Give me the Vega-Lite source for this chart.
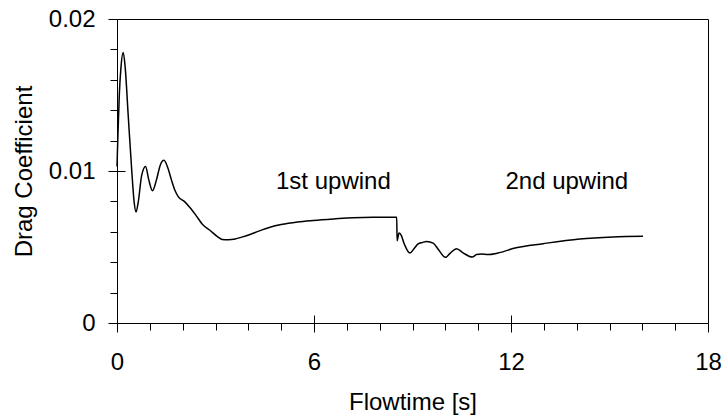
{
  "$schema": "https://vega.github.io/schema/vega-lite/v6.json",
  "autosize": {"type": "none"},
  "padding": {"left": 117, "top": 19, "right": 16, "bottom": 96},
  "width": 591,
  "height": 304,
  "background": "white",
  "config": {
    "view": {"stroke": "black", "strokeWidth": 1},
    "font": "Liberation Sans",
    "axis": {
      "domainColor": "black",
      "tickColor": "black",
      "labelColor": "black",
      "titleColor": "black",
      "labelFont": "Liberation Sans",
      "titleFont": "Liberation Sans",
      "labelFontSize": 24,
      "titleFontSize": 24,
      "titleFontWeight": "normal",
      "labelFlush": false,
      "grid": false,
      "tickWidth": 1,
      "domainWidth": 1
    }
  },
  "datasets": {
    "drag": [
      {"t": 0.0, "cd": 0.0103},
      {"t": 0.03, "cd": 0.0125},
      {"t": 0.07, "cd": 0.015},
      {"t": 0.12, "cd": 0.0168},
      {"t": 0.19, "cd": 0.0178},
      {"t": 0.25, "cd": 0.0168},
      {"t": 0.34, "cd": 0.0137},
      {"t": 0.45, "cd": 0.01},
      {"t": 0.52, "cd": 0.008},
      {"t": 0.58, "cd": 0.0073},
      {"t": 0.65, "cd": 0.008},
      {"t": 0.75, "cd": 0.0097},
      {"t": 0.87, "cd": 0.0103},
      {"t": 0.97, "cd": 0.0094},
      {"t": 1.08, "cd": 0.0087},
      {"t": 1.2, "cd": 0.0094},
      {"t": 1.32, "cd": 0.0104},
      {"t": 1.43, "cd": 0.0107},
      {"t": 1.55, "cd": 0.0102},
      {"t": 1.66, "cd": 0.0094},
      {"t": 1.77, "cd": 0.0087},
      {"t": 1.87, "cd": 0.0083},
      {"t": 2.05, "cd": 0.008},
      {"t": 2.22, "cd": 0.0076},
      {"t": 2.4, "cd": 0.0071},
      {"t": 2.6, "cd": 0.0065},
      {"t": 2.83, "cd": 0.0061},
      {"t": 3.05, "cd": 0.0057},
      {"t": 3.2, "cd": 0.0055},
      {"t": 3.39, "cd": 0.00548},
      {"t": 3.6, "cd": 0.00553},
      {"t": 3.8, "cd": 0.00565},
      {"t": 4.05, "cd": 0.00582},
      {"t": 4.3, "cd": 0.00603},
      {"t": 4.66, "cd": 0.0063},
      {"t": 5.0, "cd": 0.00648},
      {"t": 5.5, "cd": 0.00665},
      {"t": 5.98, "cd": 0.00675},
      {"t": 6.6, "cd": 0.00685},
      {"t": 7.19, "cd": 0.00693},
      {"t": 7.8, "cd": 0.00695},
      {"t": 8.46, "cd": 0.00695},
      {"t": 8.52, "cd": 0.00695},
      {"t": 8.53, "cd": 0.00541},
      {"t": 8.59, "cd": 0.00592},
      {"t": 8.65, "cd": 0.0058},
      {"t": 8.75, "cd": 0.0052},
      {"t": 8.92, "cd": 0.0046},
      {"t": 9.05, "cd": 0.0049},
      {"t": 9.17, "cd": 0.0052},
      {"t": 9.3, "cd": 0.0053},
      {"t": 9.43, "cd": 0.00537},
      {"t": 9.63, "cd": 0.00526},
      {"t": 9.8, "cd": 0.0048},
      {"t": 10.0, "cd": 0.00432},
      {"t": 10.15, "cd": 0.0046},
      {"t": 10.34, "cd": 0.00489},
      {"t": 10.55, "cd": 0.0046},
      {"t": 10.82, "cd": 0.00434},
      {"t": 10.95, "cd": 0.0045},
      {"t": 11.1, "cd": 0.00454},
      {"t": 11.3, "cd": 0.0045},
      {"t": 11.6, "cd": 0.0046},
      {"t": 12.12, "cd": 0.00493},
      {"t": 12.98, "cd": 0.00522},
      {"t": 14.09, "cd": 0.00553},
      {"t": 15.11, "cd": 0.00566},
      {"t": 16.02, "cd": 0.0057}
    ],
    "notes": [
      {"t": 6.59, "cd": 0.0093, "label": "1st upwind"},
      {"t": 13.7, "cd": 0.0093, "label": "2nd upwind"}
    ]
  },
  "layer": [
    {
      "data": {"name": "drag"},
      "mark": {"type": "line", "color": "black", "strokeWidth": 1.5, "interpolate": "monotone"},
      "encoding": {
        "x": {
          "field": "t",
          "type": "quantitative",
          "scale": {"domain": [0, 18], "nice": false, "zero": false},
          "axis": {
            "orient": "bottom",
            "title": "Flowtime [s]",
            "titlePadding": 16,
            "values": [0, 1, 2, 3, 4, 5, 6, 7, 8, 9, 10, 11, 12, 13, 14, 15, 16, 17, 18],
            "labelExpr": "datum.value % 6 == 0 ? datum.label : ''",
            "labelPadding": 18,
            "tickSize": {"condition": {"test": "datum.value % 6 == 0", "value": 9}, "value": 7}
          }
        },
        "y": {
          "field": "cd",
          "type": "quantitative",
          "scale": {"domain": [0, 0.02], "nice": false, "zero": false},
          "axis": {
            "orient": "left",
            "title": "Drag Coefficient",
            "titlePadding": 12,
            "values": [0, 0.002, 0.004, 0.006, 0.008, 0.01, 0.012, 0.014, 0.016, 0.018, 0.02],
            "labelExpr": "abs(datum.value * 100 - round(datum.value * 100)) < 0.000001 ? (datum.value == 0 ? '0' : format(datum.value, '.2f')) : ''",
            "labelPadding": 13,
            "tickSize": {"condition": {"test": "abs(datum.value * 100 - round(datum.value * 100)) < 0.000001", "value": 9}, "value": 7}
          }
        }
      }
    },
    {
      "data": {"name": "notes"},
      "mark": {"type": "text", "color": "black", "font": "Liberation Sans", "fontSize": 24, "align": "center", "baseline": "middle"},
      "encoding": {
        "x": {
          "field": "t",
          "type": "quantitative",
          "scale": {"domain": [0, 18], "nice": false, "zero": false},
          "axis": {
            "orient": "bottom",
            "offset": -8,
            "title": null,
            "domain": false,
            "labels": false,
            "values": [6, 12],
            "tickSize": 8
          }
        },
        "y": {
          "field": "cd",
          "type": "quantitative",
          "scale": {"domain": [0, 0.02], "nice": false, "zero": false},
          "axis": {
            "orient": "left",
            "offset": -8,
            "title": null,
            "domain": false,
            "labels": false,
            "values": [0.01],
            "tickSize": 8
          }
        },
        "text": {"field": "label"}
      }
    }
  ],
  "resolve": {"axis": {"x": "independent", "y": "independent"}}
}
